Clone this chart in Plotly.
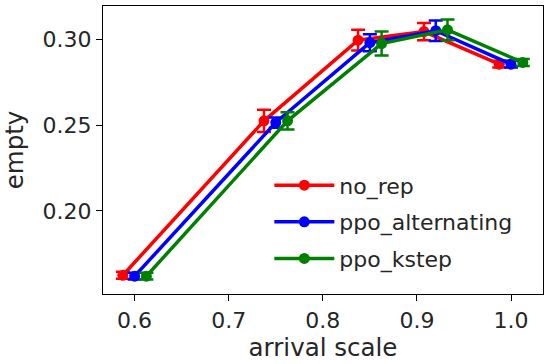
import plotly.graph_objects as go

arrival_scale = [0.6, 0.75, 0.85, 0.92, 1.0]
offsets = [-0.0125, 0.0, 0.0125]
series_names = ["no_rep", "ppo_alternating", "ppo_kstep"]
colors = ["red", "blue", "green"]

no_rep = [0.1625, 0.2525, 0.2995, 0.3045, 0.2855]
ppo_alternating = [0.162, 0.2515, 0.298, 0.305, 0.2855]
ppo_kstep = [0.162, 0.2525, 0.2975, 0.3055, 0.2865]

no_rep_err = [0.002, 0.0065, 0.006, 0.005, 0.002]
ppo_alternating_err = [0.002, 0.003, 0.005, 0.006, 0.002]
ppo_kstep_err = [0.002, 0.005, 0.007, 0.006, 0.002]

values = [no_rep, ppo_alternating, ppo_kstep]
errors = [no_rep_err, ppo_alternating_err, ppo_kstep_err]

x_ticks = [0.6, 0.7, 0.8, 0.9, 1.0]
y_ticks = [0.20, 0.25, 0.30]

fig = go.Figure()
for name, col, off, ys, es in zip(series_names, colors, offsets, values, errors):
    fig.add_trace(go.Scatter(
        x=[v + off for v in arrival_scale], y=ys, name=name, mode="lines+markers",
        line=dict(color=col, width=3.5), marker=dict(color=col, size=11),
        error_y=dict(type="data", array=es, visible=True, color=col, thickness=2.5, width=7),
        legendgroup=name,
    ))

font = "DejaVu Sans"
fig.update_layout(
    width=550, height=364,
    margin=dict(l=103, r=7, t=6, b=70),
    paper_bgcolor="white", plot_bgcolor="white",
    font=dict(family=font, size=22, color="#262626"),
    showlegend=True,
    legend=dict(x=0.378, y=0.45, xanchor="left", yanchor="top", bgcolor="rgba(255,255,255,0)",
                itemwidth=60,
                font=dict(family=font, size=22, color="#262626"), tracegroupgap=5),
    xaxis=dict(range=[0.5664, 1.034], tickvals=x_ticks, ticktext=["0.6", "0.7", "0.8", "0.9", "1.0"],
               automargin=False,
               showgrid=False, zeroline=False, showline=True, mirror=True, linecolor="black", linewidth=1.3,
               ticks="outside", ticklen=6, tickwidth=1.3, tickcolor="black",
               title=dict(text="arrival scale", font=dict(size=24.5), standoff=6)),
    yaxis=dict(range=[0.1516, 0.3194], tickvals=y_ticks, ticktext=["0.20", "0.25", "0.30"],
               automargin=False,
               showgrid=False, zeroline=False, showline=True, mirror=True, linecolor="black", linewidth=1.3,
               ticks="outside", ticklen=6, tickwidth=1.3, tickcolor="black",
               title=dict(text="empty", font=dict(size=24.5), standoff=11)),
)

fig.write_html("out.html", config={"displayModeBar": False},
               post_script="document.body.style.margin='0';")
